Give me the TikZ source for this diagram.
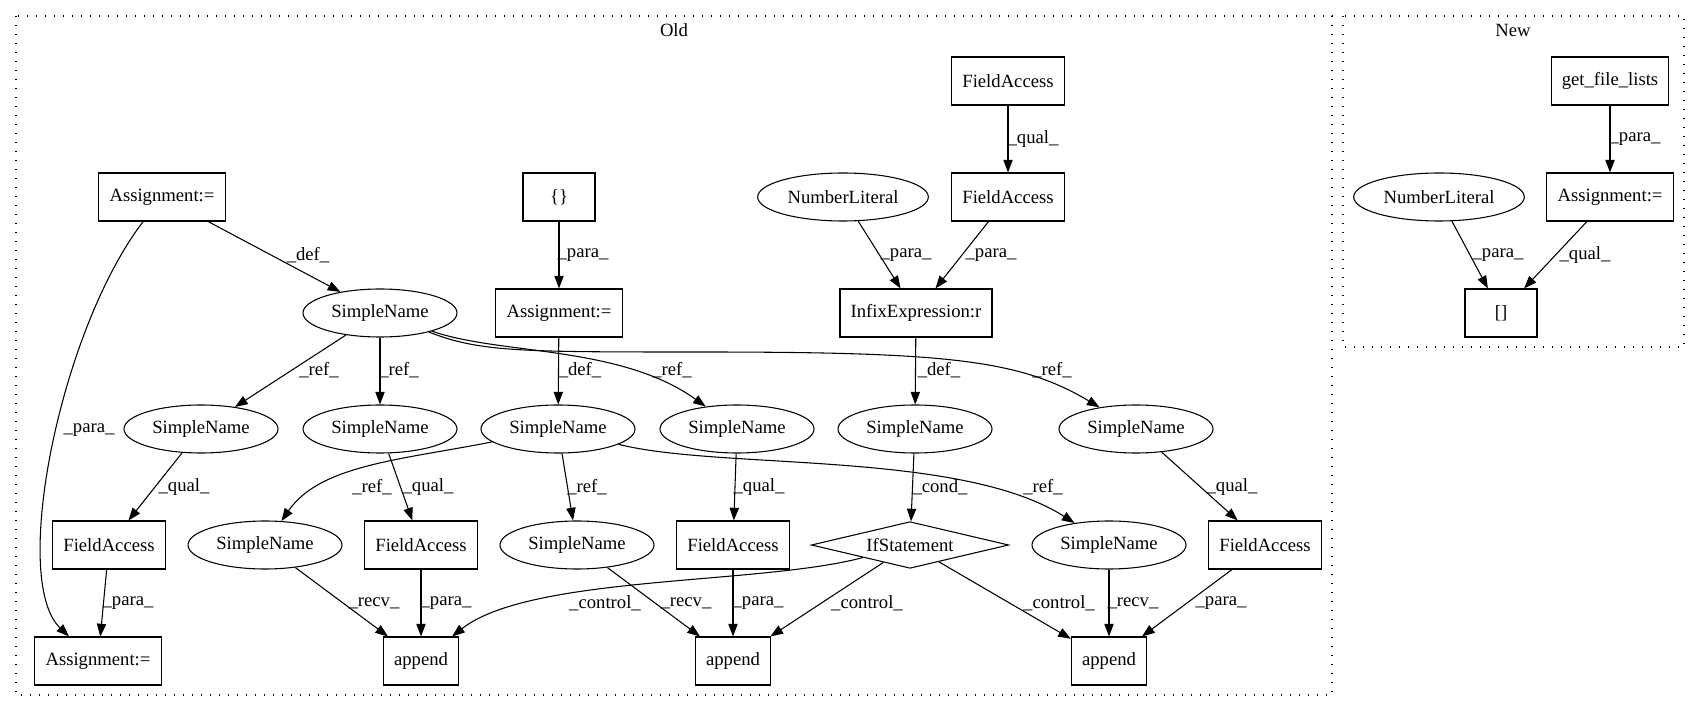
\documentclass[tikz,border=0pt]{standalone}
\usepackage{fontspec}
\setmainfont{Liberation Serif}
\usetikzlibrary{shapes.geometric, arrows.meta}

\begin{document}
\begin{tikzpicture}[x=0.75pt, y=-0.75pt, line width=0.8pt,
  font=\fontsize{14}{16}\selectfont,
  box/.style={draw, rectangle, minimum width=54pt, minimum height=36pt, inner xsep=8pt},
  oval/.style={draw, ellipse, minimum width=115.5pt, minimum height=36pt, inner sep=0pt},
  numoval/.style={oval, minimum width=128pt},
  cond/.style={draw, diamond, aspect=4, minimum width=148pt, minimum height=35pt, inner sep=0pt},
  lbl/.style={inner sep=0pt},
  cluster/.style={dash pattern=on 1pt off 5.75pt},
  >={Triangle[length=9.5pt,width=7pt]}]
\useasboundingbox (0,0) rectangle (1700,712);
% clusters
\draw[cluster] (16,16) rectangle (1332,695);
\node (oldTitle) at (674,30) {Old};
\draw[cluster] (1343,16) rectangle (1684,347);
\node (newTitle) at (1513,30) {New};
% Old: nodes
\node[box] (assignA) at (162,197) {Assignment:=};
\node[box] (braces) at (559,197) {\{\}};
\node[box] (fieldTop) at (1008,81) {FieldAccess};
\node[box] (fieldMid) at (1008,197) {FieldAccess};
\node[numoval] (numLit) at (843,197) {NumberLiteral};
\node[oval] (simpleRoot) at (380,313) {SimpleName};
\node[box] (assignB) at (559,313) {Assignment:=};
\node[box] (infix) at (916,313) {InfixExpression:r};
\node[oval] (snA) at (201,429) {SimpleName};
\node[oval] (snB) at (380,429) {SimpleName};
\node[oval] (snC) at (558,429) {SimpleName};
\node[oval] (snD) at (737,429) {SimpleName};
\node[oval] (snE) at (915,429) {SimpleName};
\node[oval] (snF) at (1136,429) {SimpleName};
\node[box] (faA) at (109,545) {FieldAccess};
\node[oval] (snG) at (265,545) {SimpleName};
\node[box] (faB) at (421,545) {FieldAccess};
\node[oval] (snH) at (577,545) {SimpleName};
\node[box] (faC) at (733,545) {FieldAccess};
\node[cond] (ifStmt) at (910,545) {IfStatement};
\node[oval] (snI) at (1109,545) {SimpleName};
\node[box] (faD) at (1265,545) {FieldAccess};
\node[box] (assignC) at (98,661) {Assignment:=};
\node[box] (appA) at (421,661) {append};
\node[box] (appB) at (733,661) {append};
\node[box] (appC) at (1109,661) {append};
% Old: edges
\draw[->] (fieldTop) -- (fieldMid) node[lbl] at (1033,139) {\_qual\_};
\draw[->] (numLit) -- (infix) node[lbl] at (906,255) {\_para\_};
\draw[->] (fieldMid) -- (infix) node[lbl] at (991,255) {\_para\_};
\draw[->] (braces) -- (assignB) node[lbl] at (583,255) {\_para\_};
\draw[->] (assignA) -- (simpleRoot) node[lbl] at (308,255) {\_def\_};
\draw[->] (assignA) .. controls (60,330) and (10,580) .. ([xshift=-21.75pt]assignC.north)
  node[lbl] at (89,430) {\_para\_};
\draw[->] (simpleRoot) -- (snA) node[lbl] at (319,370) {\_ref\_};
\draw[->] (simpleRoot) -- (snB) node[lbl] at (399,370) {\_ref\_};
\draw[->] (simpleRoot) .. controls (500,355) and (620,345) .. (snD) node[lbl] at (672,370) {\_ref\_};
\draw[->] (simpleRoot) .. controls (480,352) and (520,352) .. (700,352)
  .. controls (950,352) and (1020,360) .. (snF) node[lbl] at (1052,370) {\_ref\_};
\draw[->] (assignB) -- (snC) node[lbl] at (580,370) {\_def\_};
\draw[->] (infix) -- (snE) node[lbl] at (939,370) {\_def\_};
\draw[->] (snA) -- (faA) node[lbl] at (184,487) {\_qual\_};
\draw[->] (snB) -- (faB) node[lbl] at (428,487) {\_qual\_};
\draw[->] (snD) -- (faC) node[lbl] at (759,487) {\_qual\_};
\draw[->] (snF) -- (faD) node[lbl] at (1232,487) {\_qual\_};
\draw[->] (snE) -- (ifStmt) node[lbl] at (940,487) {\_cond\_};
\draw[->] (snC) .. controls (400,460) and (320,465) .. (snG) node[lbl] at (372,487) {\_ref\_};
\draw[->] (snC) -- (snH) node[lbl] at (587,487) {\_ref\_};
\draw[->] (snC) .. controls (720,470) and (960,450) .. (snI) node[lbl] at (1043,487) {\_ref\_};
\draw[->] (faA) -- (assignC) node[lbl] at (128,603) {\_para\_};
\draw[->] (snG) -- (appA) node[lbl] at (374,603) {\_recv\_};
\draw[->] (faB) -- (appA) node[lbl] at (446,603) {\_para\_};
\draw[->] (ifStmt) .. controls (760,585) and (530,575) .. (appA) node[lbl] at (605,603) {\_control\_};
\draw[->] (snH) -- (appB) node[lbl] at (686,603) {\_recv\_};
\draw[->] (faC) -- (appB) node[lbl] at (758,603) {\_para\_};
\draw[->] (ifStmt) -- (appB) node[lbl] at (867,603) {\_control\_};
\draw[->] (ifStmt) -- (appC) node[lbl] at (1059,603) {\_control\_};
\draw[->] (snI) -- (appC) node[lbl] at (1133,603) {\_recv\_};
\draw[->] (faD) -- (appC) node[lbl] at (1221,603) {\_para\_};
% New
\node[box] (getLists) at (1610,81) {get\_file\_lists};
\node[box] (assignD) at (1610,197) {Assignment:=};
\node[numoval] (numLitNew) at (1439,197) {NumberLiteral};
\node[box] (brackets) at (1501,313) {[]};
\draw[->] (getLists) -- (assignD) node[lbl] at (1635,139) {\_para\_};
\draw[->] (numLitNew) -- (brackets) node[lbl] at (1498,255) {\_para\_};
\draw[->] (assignD) -- (brackets) node[lbl] at (1585,255) {\_qual\_};
\end{tikzpicture}
\end{document}
